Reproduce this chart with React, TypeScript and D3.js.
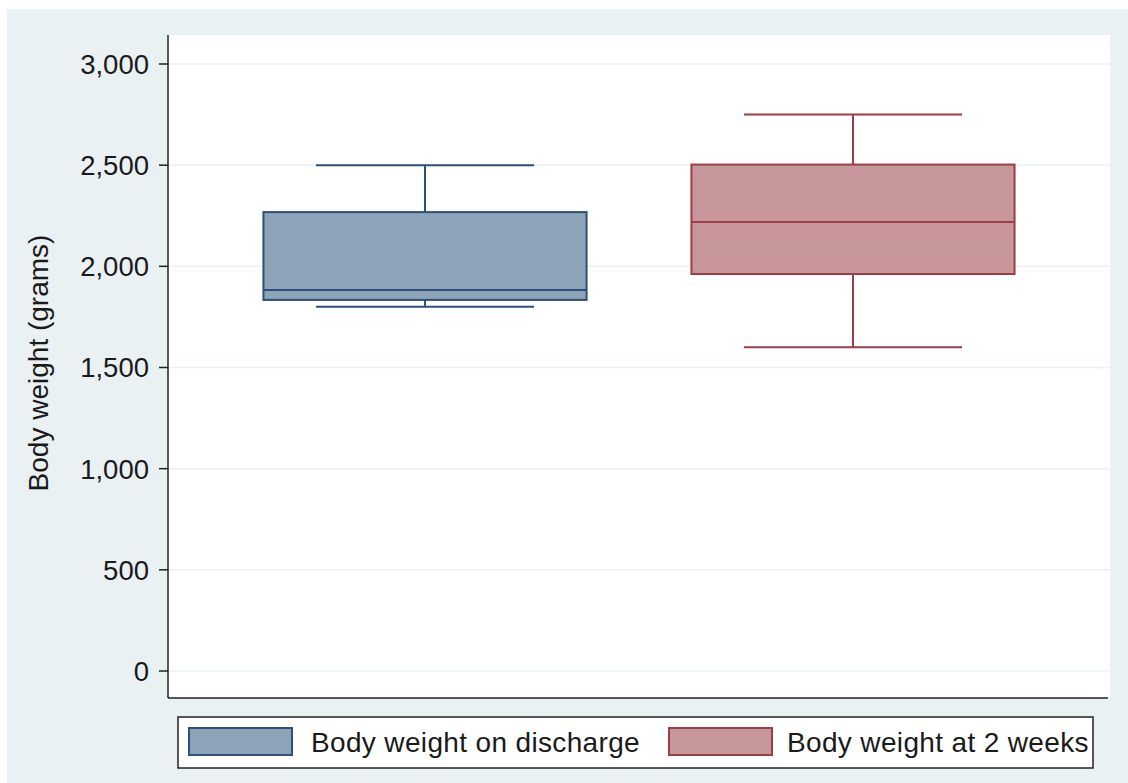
import React from "react";
import * as d3 from "d3";

const series = ["Body weight on discharge", "Body weight at 2 weeks"];
const whiskerLow = [1800, 1600];
const q1 = [1834, 1962];
const median = [1883, 2219];
const q3 = [2268, 2503];
const whiskerHigh = [2500, 2750];
const yTicks = [0, 500, 1000, 1500, 2000, 2500, 3000];
const fills = ["#8DA3B8", "#C8979A"];
const strokes = ["#2C5078", "#9C3D47"];

const W = 1128;
const H = 783;
const plotL = 168;
const plotR = 1110;
const plotT = 35;
const plotB = 698;

export default function App() {
  const y = d3.scaleLinear().domain([0, 3000]).range([671, 64]);
  const x = d3
    .scaleBand<number>()
    .domain(series.map((_, i) => i))
    .range([plotL, plotR])
    .paddingInner(0.245)
    .paddingOuter(0.223);
  const bw = x.bandwidth();
  const capW = bw * 0.675;
  const fmt = d3.format(",");
  const font = "'Liberation Sans', Arial, sans-serif";

  const legendItems = [
    { sx: 189, tx: 311 },
    { sx: 669, tx: 787 },
  ];

  return (
    <svg
      width={W}
      height={H}
      style={{ position: "absolute", left: 0, top: 0 }}
      fontFamily={font}
    >
      <rect x={0} y={0} width={W} height={H} fill="#ffffff" />
      <rect x={7} y={9} width={W - 7} height={H - 9} fill="#EAF1F3" />
      <rect x={plotL} y={plotT} width={plotR - plotL} height={plotB - plotT} fill="#ffffff" />
      {yTicks.map((t) => (
        <g key={t}>
          <line x1={plotL} x2={plotR} y1={y(t)} y2={y(t)} stroke="#EAF1F3" strokeWidth={1.5} />
          <line x1={plotL - 9} x2={plotL} y1={y(t)} y2={y(t)} stroke="#222" strokeWidth={1.5} />
          <text
            x={plotL - 19}
            y={y(t)}
            dy="0.36em"
            textAnchor="end"
            fontSize={27.5}
            fill="#1a1a1a"
          >
            {fmt(t)}
          </text>
        </g>
      ))}
      {series.map((s, i) => {
        const x0 = x(i)!;
        const cx = x0 + bw / 2;
        return (
          <g key={s}>
            <line x1={cx} x2={cx} y1={y(whiskerHigh[i])} y2={y(q3[i])} stroke={strokes[i]} strokeWidth={2} />
            <line x1={cx} x2={cx} y1={y(q1[i])} y2={y(whiskerLow[i])} stroke={strokes[i]} strokeWidth={2} />
            <line x1={cx - capW / 2} x2={cx + capW / 2} y1={y(whiskerHigh[i])} y2={y(whiskerHigh[i])} stroke={strokes[i]} strokeWidth={2} />
            <line x1={cx - capW / 2} x2={cx + capW / 2} y1={y(whiskerLow[i])} y2={y(whiskerLow[i])} stroke={strokes[i]} strokeWidth={2} />
            <rect
              x={x0}
              y={y(q3[i])}
              width={bw}
              height={y(q1[i]) - y(q3[i])}
              fill={fills[i]}
              stroke={strokes[i]}
              strokeWidth={2}
            />
            <line x1={x0} x2={x0 + bw} y1={y(median[i])} y2={y(median[i])} stroke={strokes[i]} strokeWidth={2} />
          </g>
        );
      })}
      <line x1={plotL} x2={plotL} y1={plotT} y2={plotB} stroke="#222" strokeWidth={1.5} />
      <line x1={plotL} x2={plotR - 2} y1={plotB} y2={plotB} stroke="#222" strokeWidth={1.5} />
      <text
        transform={`translate(48,363) rotate(-90)`}
        textAnchor="middle"
        fontSize={28}
        fill="#1a1a1a"
      >
        Body weight (grams)
      </text>
      <rect x={178} y={717} width={915} height={51} fill="#ffffff" stroke="#222" strokeWidth={1.5} />
      {series.map((s, i) => (
        <g key={"l" + s}>
          <rect x={legendItems[i].sx} y={728} width={103} height={27} fill={fills[i]} stroke={strokes[i]} strokeWidth={2} />
          <text x={legendItems[i].tx} y={752} fontSize={28} letterSpacing={0.35} fill="#1a1a1a">
            {s}
          </text>
        </g>
      ))}
    </svg>
  );
}
